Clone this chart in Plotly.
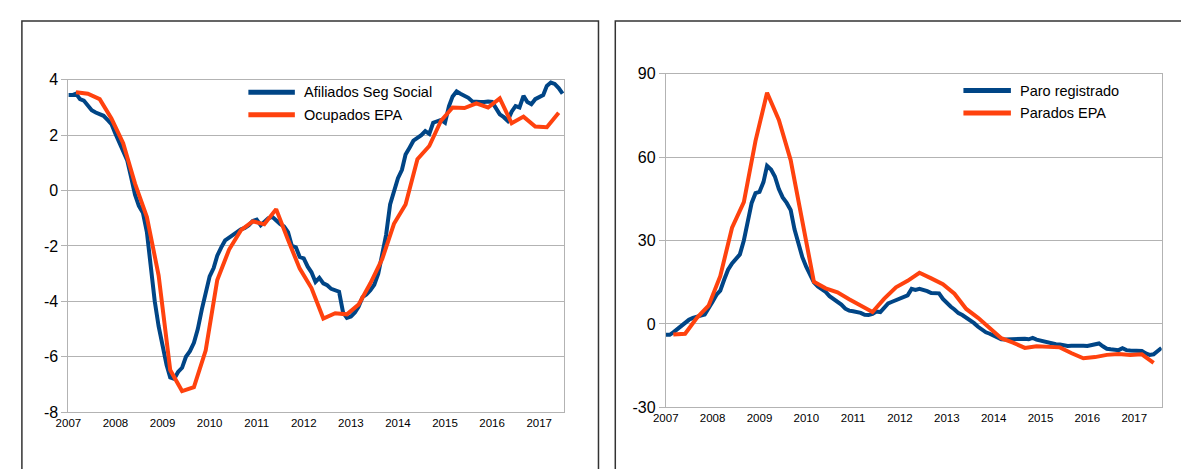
import pandas as pd
import plotly.graph_objects as go
from plotly.subplots import make_subplots

BLUE = "#004586"
ORANGE = "#ff420e"
GRID = "#b3b3b3"

YEAR_TICKS = [str(y) for y in range(2007, 2018)]

# left panel: employment, % y/y
afiliados = [
    3.45, 3.45, 3.5, 3.3, 3.25, 3.05, 2.9, 2.82, 2.75, 2.7, 2.55, 2.4,
    2.05, 1.75, 1.45, 1.1, 0.5, -0.15, -0.55, -0.8, -1.5, -2.8, -4.0, -4.9,
    -5.7, -6.3, -6.75, -6.8, -6.55, -6.4, -6.0, -5.8, -5.5, -5.0, -4.3, -3.7,
    -3.1, -2.8, -2.35, -2.05, -1.8, -1.7, -1.6, -1.5, -1.4, -1.35, -1.25, -1.1,
    -1.05, -1.25, -1.15, -1.0, -0.95, -1.1, -1.2, -1.3, -1.5, -2.0, -2.05, -2.4,
    -2.45, -2.75, -2.95, -3.3, -3.15, -3.35, -3.42, -3.55, -3.6, -3.65, -4.4, -4.6,
    -4.55, -4.4, -4.2, -3.85, -3.75, -3.6, -3.4, -3.0, -2.3, -1.6, -0.5, 0.0,
    0.45, 0.75, 1.3, 1.55, 1.8, 1.9, 2.0, 2.15, 2.05, 2.45, 2.5, 2.55,
    2.45, 3.05, 3.4, 3.58, 3.5, 3.42, 3.35, 3.22, 3.2, 3.2, 3.2, 3.22,
    3.2, 2.95, 2.75, 2.65, 2.52, 2.85, 3.05, 3.0, 3.42, 3.2, 3.12, 3.3,
    3.38, 3.45, 3.78, 3.9, 3.85, 3.7, 3.5,
]
ocupados = [
    3.55, 3.5, 3.3, 2.6,
    1.71, 0.25, -0.96, -3.06,
    -6.48, -7.24, -7.1, -5.78,
    -3.23, -2.13, -1.43, -1.11,
    -1.22, -0.67, -1.78, -2.82,
    -3.52, -4.62, -4.43, -4.47,
    -4.12, -3.35, -2.47, -1.2,
    -0.5, 1.13, 1.61, 2.52,
    3.0, 2.98, 3.15, 3.0,
    3.33, 2.43, 2.67, 2.31,
    2.29, 2.81,
]

# right panel: unemployment, % y/y
paro = [
    -3.9, -3.9, -3.0, -1.8, -0.8, 0.5, 1.5, 2.2, 2.8, 3.0, 3.4, 5.5,
    8.0, 10.5, 12.0, 16.0, 19.5, 21.8, 23.5, 25.0, 30.0, 37.5, 43.5, 47.0,
    47.5, 51.0, 56.8, 55.5, 53.0, 48.5, 45.5, 43.5, 41.0, 34.0, 29.0, 24.0,
    20.5, 17.5, 15.0, 13.5, 12.5, 11.5, 10.0, 9.0, 8.0, 7.0, 5.5, 4.8,
    4.6, 4.4, 4.0, 3.3, 3.2, 3.6, 4.5, 4.3, 6.0, 7.4, 8.0, 8.6,
    9.1, 10.0, 10.3, 12.6, 12.2, 12.6, 12.3, 11.8, 11.1, 10.9, 11.0, 9.0,
    7.5, 6.2, 5.2, 3.9, 3.2, 2.2, 1.6, 0.3, -1.0, -2.2, -3.0, -3.5,
    -4.2, -5.0, -5.5, -5.6, -5.5, -5.4, -5.2, -5.1, -5.3, -5.5, -5.0, -5.6,
    -6.0, -6.5, -6.8, -7.2, -7.3, -7.4, -7.8, -7.9, -7.8, -7.7, -7.7, -7.8,
    -7.9, -7.6, -7.2, -7.0, -8.0, -8.9, -9.1, -9.3, -9.4, -8.7, -9.4, -9.5,
    -9.6, -9.6, -9.7, -10.6, -11.1, -10.9, -9.8, -8.6,
]
parados = [
    -3.8, -3.5, 2.2, 6.6,
    17.2, 34.6, 43.8, 65.8,
    83.1, 73.3, 58.9, 36.9,
    15.2, 12.8, 11.4, 8.9,
    6.8, 4.3, 9.1, 13.2,
    15.5, 18.4, 16.4, 14.3,
    10.9, 5.4, 2.2, -1.3,
    -5.1, -6.7, -8.6, -8.0,
    -8.2, -8.4, -10.5, -12.3,
    -11.9, -11.1, -10.8, -11.1,
    -10.9, -14.0,
]

LEFT_YTICKS = [-8, -6, -4, -2, 0, 2, 4]
LEFT_YLABELS = ["-8", "-6", "-4", "-2", "0", "2", "4"]
RIGHT_YTICKS = [-30, 0, 30, 60, 90]
RIGHT_YLABELS = ["-30", "0", "30", "60", "90"]

months_l = pd.date_range("2007-01-01", periods=len(afiliados), freq="MS")
months_r = pd.date_range("2007-01-01", periods=len(paro), freq="MS")
quarters = pd.date_range("2007-03-01", periods=len(ocupados), freq="3MS")

W, H = 1181, 469


def px_x(v):
    return v / W


def px_y(v):
    return 1 - v / H


fig = make_subplots(rows=1, cols=2)
line_kw = dict(mode="lines", showlegend=False)
fig.add_trace(go.Scatter(x=months_l, y=afiliados, line=dict(color=BLUE, width=4), **line_kw), row=1, col=1)
fig.add_trace(go.Scatter(x=quarters, y=ocupados, line=dict(color=ORANGE, width=4), **line_kw), row=1, col=1)
fig.add_trace(go.Scatter(x=months_r, y=paro, line=dict(color=BLUE, width=4), **line_kw), row=1, col=2)
fig.add_trace(go.Scatter(x=quarters, y=parados, line=dict(color=ORANGE, width=4), **line_kw), row=1, col=2)

xaxis_common = dict(
    tickmode="array",
    tickvals=[f"{y}-01-01" for y in YEAR_TICKS],
    ticktext=YEAR_TICKS,
    showgrid=False,
    showline=True,
    mirror=True,
    linecolor=GRID,
    linewidth=1,
    ticks="",
    tickfont=dict(size=11.5, color="#000000"),
    zeroline=False,
)
yaxis_common = dict(
    tickmode="array",
    showgrid=True,
    gridcolor=GRID,
    gridwidth=1,
    showline=True,
    mirror=True,
    linecolor=GRID,
    linewidth=1,
    ticks="outside",
    ticklen=6,
    tickcolor=GRID,
    tickfont=dict(size=16, color="#000000"),
    zeroline=False,
)

fig.update_xaxes(xaxis_common)
fig.update_yaxes(yaxis_common)
fig.update_layout(
    xaxis=dict(domain=[px_x(56), px_x(557.5)], range=["2007-01-01", "2017-07-15"]),
    xaxis2=dict(domain=[px_x(660), px_x(1161.5)], range=["2007-01-01", "2017-08-03"]),
    yaxis=dict(domain=[px_y(419.3), px_y(74.5)], range=[-8, 4], tickvals=LEFT_YTICKS, ticktext=LEFT_YLABELS),
    yaxis2=dict(domain=[px_y(414.5), px_y(68)], range=[-30, 90], tickvals=RIGHT_YTICKS, ticktext=RIGHT_YLABELS),
)

# panel frames
frame = dict(type="rect", xref="paper", yref="paper", line=dict(color="#333333", width=1.5), fillcolor="rgba(0,0,0,0)")
fig.add_shape(x0=px_x(9), x1=px_x(592), y0=-0.1, y1=px_y(13.5), **frame)
fig.add_shape(x0=px_x(609), x1=1.1, y0=-0.1, y1=px_y(13.5), **frame)

# legends drawn as short lines and labels
legend_items = [
    (238, 285, 87.3, BLUE, "Afiliados Seg Social"),
    (238, 285, 110.7, ORANGE, "Ocupados EPA"),
    (961, 1009, 85.7, BLUE, "Paro registrado"),
    (961, 1009, 109.0, ORANGE, "Parados EPA"),
]
for x0, x1, yc, color, label in legend_items:
    fig.add_shape(type="line", xref="paper", yref="paper", x0=px_x(x0), x1=px_x(x1), y0=px_y(yc), y1=px_y(yc),
                  line=dict(color=color, width=5))
    fig.add_annotation(x=px_x(x1 + 7), y=px_y(yc), xref="paper", yref="paper", text=label, showarrow=False,
                       xanchor="left", yanchor="middle", font=dict(size=14.5, color="#000000"))

fig.update_layout(
    width=W,
    height=H,
    autosize=False,
    margin=dict(l=0, r=0, t=0, b=0),
    paper_bgcolor="#ffffff",
    plot_bgcolor="#ffffff",
    font=dict(family="Liberation Sans, Arial, sans-serif", color="#000000"),
    showlegend=False,
)

# the page's default 8px body margin would shift the fixed-size figure
fig.write_html(
    "out.html",
    config={"displayModeBar": False},
    post_script="document.body.style.margin='0';document.body.style.overflow='hidden';",
)
